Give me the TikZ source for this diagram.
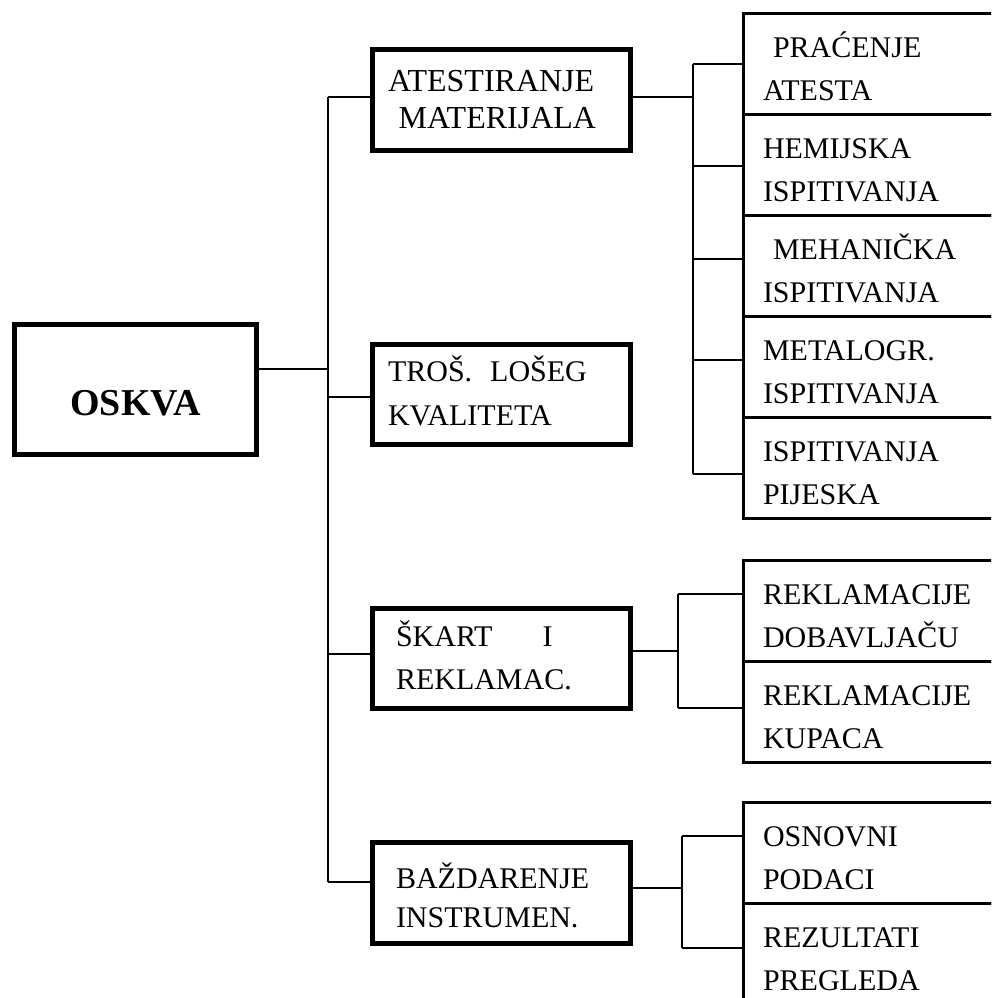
\documentclass[tikz,border=0pt]{standalone}
\usepackage{fontspec}
\setmainfont{Liberation Serif}
\usetikzlibrary{matrix}
\tikzset{
tree/.style={line width=1.3pt},
lbox/.style={
  draw, rectangle, line width=5pt,
  minimum width=258pt, minimum height=100.5pt,
  align=left, text height=28pt,
  font=\fontsize{30}{43}\selectfont
},
stack/.style={
  matrix of nodes,
  inner sep=0pt, outer sep=0pt,
  row sep=-2.5pt,
  nodes={draw, rectangle, line width=2.5pt, inner sep=3pt, outer sep=1.25pt,
    minimum width=262pt, minimum height=101pt, text width=222.5pt,
    align=left, text height=28pt, text depth=41pt,
    font=\fontsize{30}{43}\selectfont}
},
}

\begin{document}
\begin{tikzpicture}[x=1pt,y=-1pt]
\useasboundingbox (0,0) rectangle (991,998);
\clip (0,0) rectangle (991,998);
% the boxes
\node[draw, line width=5pt, minimum width=242pt, minimum height=130pt,
  font=\bfseries\fontsize{38}{44}\selectfont, text height=51pt, text depth=0pt]
  (oskva) at (135.5,389.5) {OSKVA};
\node[lbox, text width=227pt, text depth=44pt, font=\fontsize{32}{36}\selectfont]
  (atest) at (501.5,100) {ATESTIRANJE\\~MATERIJALA};
\node[lbox, text width=227pt, text depth=55pt, font=\fontsize{30}{44}\selectfont]
  (tros) at (501.5,394.5) {TROŠ.\hspace{18pt}LOŠEG\\KVALITETA};
\node[lbox, text width=211pt, text depth=53pt]
  (skart) at (501.5,658.5) {ŠKART\hspace{50pt}I\\REKLAMAC.};
\node[lbox, text width=211pt, text depth=38pt, font=\fontsize{30}{39}\selectfont]
  (bazd) at (501.5,893) {BAŽDARENJE\\INSTRUMEN.};
\matrix (atm) [stack, anchor=north west] at (742,12)
{
{~PRAĆENJE\\ATESTA} \\
{HEMIJSKA\\ISPITIVANJA} \\
{~MEHANIČKA\\ISPITIVANJA} \\
{METALOGR.\\ISPITIVANJA} \\
{ISPITIVANJA\\PIJESKA} \\
};
\matrix (skm) [stack, anchor=north west] at (742,559)
{
{REKLAMACIJE\\DOBAVLJAČU} \\
{REKLAMACIJE\\KUPACA} \\
};
\matrix (bzm) [stack, anchor=north west] at (742,801)
{
{OSNOVNI\\PODACI} \\
{REZULTATI\\PREGLEDA} \\
};
% the trunk
\coordinate (t0) at (328,369);
\draw[tree] (t0 -| oskva.east) -- (t0);
\foreach \y/\b in {97/atest,397/tros,654/skart,882/bazd}
{
  \coordinate (t-\b) at (328,\y);
  \draw[tree] (t-\b) -- (t-\b -| \b.west);
}
\draw[tree] (t-atest) -- (t-bazd);
% the branches
\coordinate (a0) at (693,97);
\draw[tree] (a0 -| atest.east) -- (a0);
\foreach \y [count=\r] in {64,166,259,360,474}
{
  \coordinate (a\r) at (693,\y);
  \draw[tree] (a\r) -- (a\r -| atm-\r-1.west);
}
\draw[tree] (a1) -- (a5);
\coordinate (s0) at (678,651);
\draw[tree] (s0 -| skart.east) -- (s0);
\foreach \y [count=\r] in {594,708}
{
  \coordinate (s\r) at (678,\y);
  \draw[tree] (s\r) -- (s\r -| skm-\r-1.west);
}
\draw[tree] (s1) -- (s2);
\coordinate (b0) at (682,888);
\draw[tree] (b0 -| bazd.east) -- (b0);
\foreach \y [count=\r] in {836,948}
{
  \coordinate (b\r) at (682,\y);
  \draw[tree] (b\r) -- (b\r -| bzm-\r-1.west);
}
\draw[tree] (b1) -- (b2);
\end{tikzpicture}
\end{document}
